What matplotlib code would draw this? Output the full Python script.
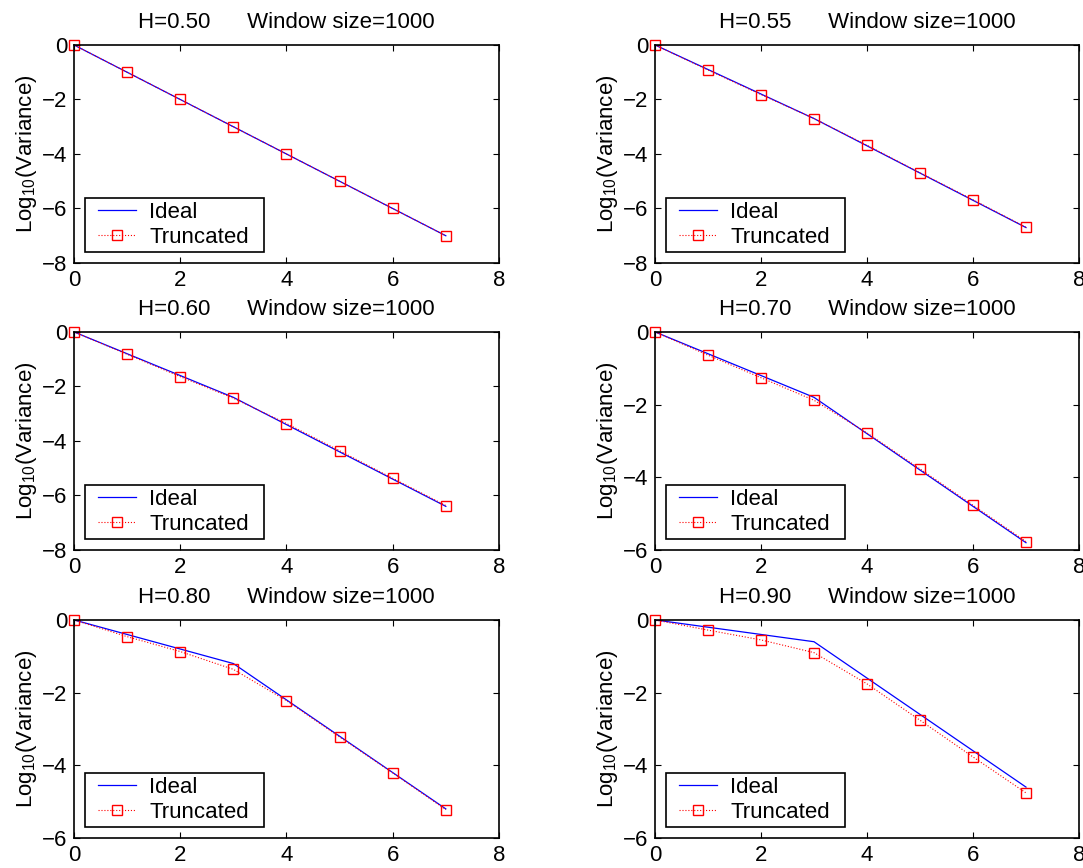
import matplotlib
matplotlib.use('Agg')
import matplotlib.pyplot as plt
from matplotlib.legend_handler import HandlerLine2D

plt.rcParams['font.family'] = ['Liberation Sans', 'DejaVu Sans']
plt.rcParams['mathtext.default'] = 'regular'
plt.rcParams['font.size'] = 16

# log10 of aggregation level
x_vals = [0, 1, 2, 3, 4, 5, 6, 7]

h_labels = ['0.50', '0.55', '0.60', '0.70', '0.80', '0.90']

ideal_050 = [0, -1.0, -2.0, -3.0, -4.0, -5.0, -6.0, -7.0]
ideal_055 = [0, -0.9, -1.8, -2.7, -3.7, -4.7, -5.7, -6.7]
ideal_060 = [0, -0.8, -1.6, -2.4, -3.4, -4.4, -5.4, -6.4]
ideal_070 = [0, -0.6, -1.2, -1.8, -2.8, -3.8, -4.8, -5.8]
ideal_080 = [0, -0.4, -0.8, -1.2, -2.2, -3.2, -4.2, -5.2]
ideal_090 = [0, -0.2, -0.4, -0.6, -1.6, -2.6, -3.6, -4.6]

trunc_050 = [0, -1.0, -2.0, -3.0, -4.0, -5.0, -6.0, -7.0]
trunc_055 = [0, -0.92, -1.82, -2.70, -3.68, -4.69, -5.68, -6.69]
trunc_060 = [0, -0.82, -1.64, -2.43, -3.36, -4.36, -5.37, -6.37]
trunc_070 = [0, -0.64, -1.26, -1.88, -2.78, -3.77, -4.77, -5.77]
trunc_080 = [0, -0.46, -0.87, -1.36, -2.22, -3.22, -4.21, -5.22]
trunc_090 = [0, -0.28, -0.55, -0.90, -1.76, -2.76, -3.77, -4.76]

ideal_all = [ideal_050, ideal_055, ideal_060, ideal_070, ideal_080, ideal_090]
trunc_all = [trunc_050, trunc_055, trunc_060, trunc_070, trunc_080, trunc_090]
y_bottoms = [-8, -8, -8, -6, -6, -6]

fig = plt.figure(figsize=(10.83, 8.68), dpi=100)

# axes boxes in figure fractions (left, bottom, width, height)
col_left = [0.0683, 0.6048]
col_width = [0.3924, 0.3915]
row_bottom = [0.6970, 0.3664, 0.0346]
row_height = 0.2512

for i in range(6):
    r, c = i // 2, i % 2
    ax = fig.add_axes([col_left[c], row_bottom[r], col_width[c], row_height])
    l1, = ax.plot(x_vals, ideal_all[i], color='blue', lw=0.9, label='Ideal')
    l2, = ax.plot(x_vals, trunc_all[i], color='red', lw=0.8, ls=':', marker='s',
                  ms=7.5, mfc='none', mec='red', mew=1.0, clip_on=False,
                  label='Truncated')
    ax.set_xlim(0, 8)
    ax.set_ylim(y_bottoms[i], 0)
    ax.set_xticks([0, 2, 4, 6, 8])
    ax.set_yticks(list(range(y_bottoms[i], 1, 2)))
    ax.tick_params(direction='in', top=True, right=True, length=4,
                   width=0.8, labelsize=16)
    ax.tick_params(axis='x', pad=5)
    ax.tick_params(axis='y', pad=5)
    for sp in ax.spines.values():
        sp.set_linewidth(1.2)
    ax.set_title('H=' + h_labels[i] + '      Window size=1000',
                 fontsize=16, pad=12)
    ax.set_ylabel(r'Log$_{10}$(Variance)', fontsize=16, labelpad=2)
    # box stretched to MATLAB's legend width
    leg = ax.legend(loc='lower left', bbox_to_anchor=(0.026, 0.05, 0.421, 0.3),
                    mode='expand', borderaxespad=0, fontsize=16, frameon=True,
                    fancybox=False, edgecolor='black', framealpha=1,
                    handlelength=2.1, handletextpad=0.6,
                    borderpad=0.18, labelspacing=0.18,
                    handler_map={l1: HandlerLine2D(xpad=0.4),
                                 l2: HandlerLine2D(xpad=0.4)})
    leg.get_frame().set_linewidth(1.2)

fig.savefig('out.png', dpi=100)
